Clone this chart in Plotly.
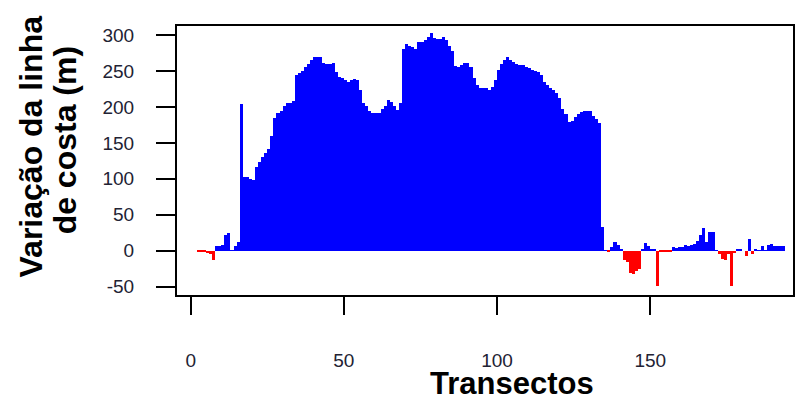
import plotly.graph_objects as go

# Transect numbers (1..194) and shoreline variation (m)
transects = list(range(1, 195))
variation = [
    0, 0, -2, -2, -2, -3, -4, -13, 6, 6,
    8, 22, 25, 1, 6, 12, 204, 103, 103, 100,
    98, 117, 123, 131, 136, 142, 159, 185, 191, 195,
    202, 205, 206, 208, 244, 247, 250, 255, 260, 266,
    270, 270, 269, 261, 260, 260, 261, 249, 242, 240,
    238, 235, 237, 239, 238, 223, 205, 202, 194, 192,
    192, 192, 197, 201, 210, 207, 201, 196, 205, 281,
    288, 285, 283, 280, 291, 290, 293, 297, 303, 296,
    295, 294, 298, 293, 285, 278, 257, 256, 259, 261,
    261, 256, 240, 230, 227, 227, 227, 224, 228, 238,
    252, 260, 266, 270, 266, 262, 260, 258, 258, 256,
    254, 252, 250, 248, 244, 235, 231, 227, 224, 220,
    212, 197, 190, 179, 180, 186, 190, 193, 195, 195,
    194, 188, 183, 177, 33, 1, -2, 5, 12, 8,
    2, -13, -16, -31, -33, -28, -26, 3, 11, 7,
    2, 2, -49, -2, -2, -2, -2, 5, 4, 5,
    5, 8, 6, 8, 10, 13, 22, 32, 12, 26,
    26, 1, -4, -12, -13, -4, -49, -3, 2, 2,
    0, -8, 17, -4, 3, 1, 6, 1, 8, 10,
    6, 6, 6, 6,
]

x_ticks = [0, 50, 100, 150]
y_ticks = [-50, 0, 50, 100, 150, 200, 250, 300]

POS_COLOR = "#0000FF"
NEG_COLOR = "#FF0000"
colors = [POS_COLOR if v >= 0 else NEG_COLOR for v in variation]

fig = go.Figure()
fig.add_trace(go.Bar(
    x=transects,
    y=variation,
    width=1,
    offset=-1,
    marker=dict(color=colors, line=dict(width=0)),
    showlegend=False,
))

FONT = "Liberation Sans, Arial, sans-serif"
TXT = "#222233"

fig.update_layout(
    width=798, height=398,
    margin=dict(l=177, r=3, t=26, b=103),
    paper_bgcolor="white", plot_bgcolor="white",
    bargap=0,
    font=dict(family=FONT, color=TXT),
)

fig.update_xaxes(
    range=[-4.46, 196.6],
    tickmode="array", tickvals=x_ticks, ticktext=[str(t) for t in x_ticks],
    ticks="outside", ticklen=18, tickwidth=2, tickcolor="black",
    showline=True, linecolor="black", linewidth=2, mirror=True,
    showgrid=False, zeroline=False,
    tickfont=dict(size=19, family=FONT, color=TXT),
    ticklabelstandoff=29,
)
fig.update_yaxes(
    range=[-61.6, 312.6],
    tickmode="array", tickvals=y_ticks, ticktext=[str(t) for t in y_ticks],
    ticks="outside", ticklen=19, tickwidth=2, tickcolor="black",
    showline=True, linecolor="black", linewidth=2, mirror=True,
    showgrid=False, zeroline=False,
    tickfont=dict(size=19, family=FONT, color=TXT),
    ticklabelstandoff=18,
)

title_font = dict(family=FONT, size=32, color="black", weight="bold")
fig.add_annotation(text="Variação da linha", xref="paper", yref="paper",
                   x=(31 - 177) / 618, y=(295 - 146) / 269,
                   xanchor="center", yanchor="middle", textangle=-90,
                   showarrow=False, font=title_font)
fig.add_annotation(text="de costa (m)", xref="paper", yref="paper",
                   x=(65 - 177) / 618, y=(295 - 140) / 269,
                   xanchor="center", yanchor="middle", textangle=-90,
                   showarrow=False, font=title_font)
fig.add_annotation(text="Transectos", xref="paper", yref="paper",
                   x=(513 - 177) / 618, y=(295 - 383) / 269,
                   xanchor="center", yanchor="middle",
                   showarrow=False, font=dict(family=FONT, size=31, color="black", weight="bold"))

fig.write_html(
    "out.html",
    config={"displayModeBar": False},
    post_script="document.body.style.margin='0';document.body.style.overflow='hidden';",
)
